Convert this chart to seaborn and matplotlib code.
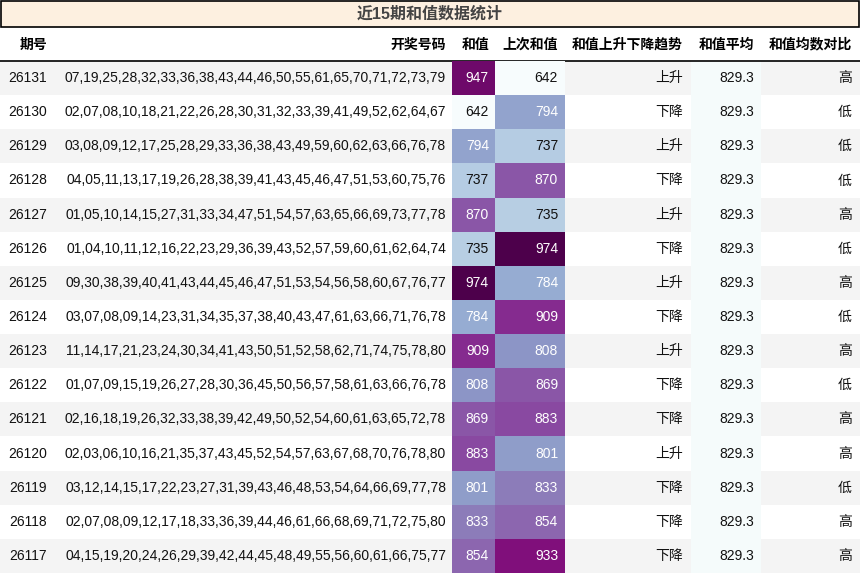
import numpy as np
import pandas as pd
import matplotlib
matplotlib.use("Agg")
import matplotlib.pyplot as plt
import seaborn as sns

sns.set_theme(style="white")
FONT = ['Liberation Sans', 'Noto Sans CJK SC', 'DejaVu Sans']
plt.rcParams['font.family'] = FONT

title = "近15期和值数据统计"
headers = ["期号", "开奖号码", "和值", "上次和值", "和值上升下降趋势", "和值平均", "和值均数对比"]
periods = ["26131","26130","26129","26128","26127","26126","26125","26124","26123","26122","26121","26120","26119","26118","26117"]
numbers = [
"07,19,25,28,32,33,36,38,43,44,46,50,55,61,65,70,71,72,73,79",
"02,07,08,10,18,21,22,26,28,30,31,32,33,39,41,49,52,62,64,67",
"03,08,09,12,17,25,28,29,33,36,38,43,49,59,60,62,63,66,76,78",
"04,05,11,13,17,19,26,28,38,39,41,43,45,46,47,51,53,60,75,76",
"01,05,10,14,15,27,31,33,34,47,51,54,57,63,65,66,69,73,77,78",
"01,04,10,11,12,16,22,23,29,36,39,43,52,57,59,60,61,62,64,74",
"09,30,38,39,40,41,43,44,45,46,47,51,53,54,56,58,60,67,76,77",
"03,07,08,09,14,23,31,34,35,37,38,40,43,47,61,63,66,71,76,78",
"11,14,17,21,23,24,30,34,41,43,50,51,52,58,62,71,74,75,78,80",
"01,07,09,15,19,26,27,28,30,36,45,50,56,57,58,61,63,66,76,78",
"02,16,18,19,26,32,33,38,39,42,49,50,52,54,60,61,63,65,72,78",
"02,03,06,10,16,21,35,37,43,45,52,54,57,63,67,68,70,76,78,80",
"03,12,14,15,17,22,23,27,31,39,43,46,48,53,54,64,66,69,77,78",
"02,07,08,09,12,17,18,33,36,39,44,46,61,66,68,69,71,72,75,80",
"04,15,19,20,24,26,29,39,42,44,45,48,49,55,56,60,61,66,75,77",
]
sums = [947,642,794,737,870,735,974,784,909,808,869,883,801,833,854]
prev_sums = [642,794,737,870,735,974,784,909,808,869,883,801,833,854,933]
trend = ["上升","下降","上升","下降","上升","下降","上升","下降","上升","下降","下降","上升","下降","下降","下降"]
avg = [829.3]*15
compare = ["高","低","低","低","高","低","高","低","高","低","高","高","低","高","高"]

W, H = 860, 573
fig = plt.figure(figsize=(W/100, H/100), dpi=100)
ax = fig.add_axes([0, 0, 1, 1])
ax.set_xlim(0, W); ax.set_ylim(H, 0); ax.axis('off')

col_edges = [0, 55, 452, 495, 565, 691, 761, 860]
pads = [8, 6, 6, 7, 8, 7, 8]
title_h, head_bot = 26, 61
n = len(periods)
rh = (H - head_bot) / n
fs = 10

ax.add_patch(plt.Rectangle((0.5, 0.5), W-1.5, title_h, facecolor="#fdf0e0", edgecolor="black", lw=1.2))
ax.text(W/2, title_h/2+1, title, ha='center', va='center', fontsize=11.5, fontweight='bold', color='#444444')

for i, h in enumerate(headers):
    ax.text(col_edges[i+1]-pads[i], (title_h+head_bot)/2+1, h, ha='right', va='center', fontsize=fs, fontweight='bold', color='black')
ax.plot([0, W], [head_bot, head_bot], color='black', lw=1.2)

for r in range(n):
    y0 = head_bot + r*rh
    if r % 2 == 0:
        ax.add_patch(plt.Rectangle((0, y0), W, rh, facecolor="#f4f4f4", edgecolor='none', zorder=0))
    ax.add_patch(plt.Rectangle((col_edges[5], y0), col_edges[6]-col_edges[5], rh, facecolor="#f5fbfb", edgecolor='none', zorder=0.5))
    yc = y0 + rh/2
    vals = [periods[r], numbers[r], None, None, trend[r], f"{avg[r]:.1f}", compare[r]]
    for i, v in enumerate(vals):
        if v is None:
            continue
        ax.text(col_edges[i+1]-pads[i], yc, v, ha='right', va='center', fontsize=fs, color='#111111')

vmin, vmax = min(sums + prev_sums), max(sums + prev_sums)
for ci, data in [(2, sums), (3, prev_sums)]:
    x0, x1 = col_edges[ci], col_edges[ci+1]
    hax = fig.add_axes([x0/W, 0, (x1-x0)/W, (H-head_bot)/H])
    df = pd.DataFrame({"v": data})
    sns.heatmap(df, ax=hax, cmap="BuPu", vmin=vmin, vmax=vmax, cbar=False, annot=False)
    hax.set_xticks([]); hax.set_yticks([]); hax.set_xlabel(""); hax.set_ylabel("")
    for r, v in enumerate(data):
        hax.text(1 - pads[ci]/(x1-x0), r+0.5, str(v), ha='right', va='center', fontsize=fs,
                 color='white' if v >= 780 else '#111111')

fig.savefig("out.png", dpi=100)
